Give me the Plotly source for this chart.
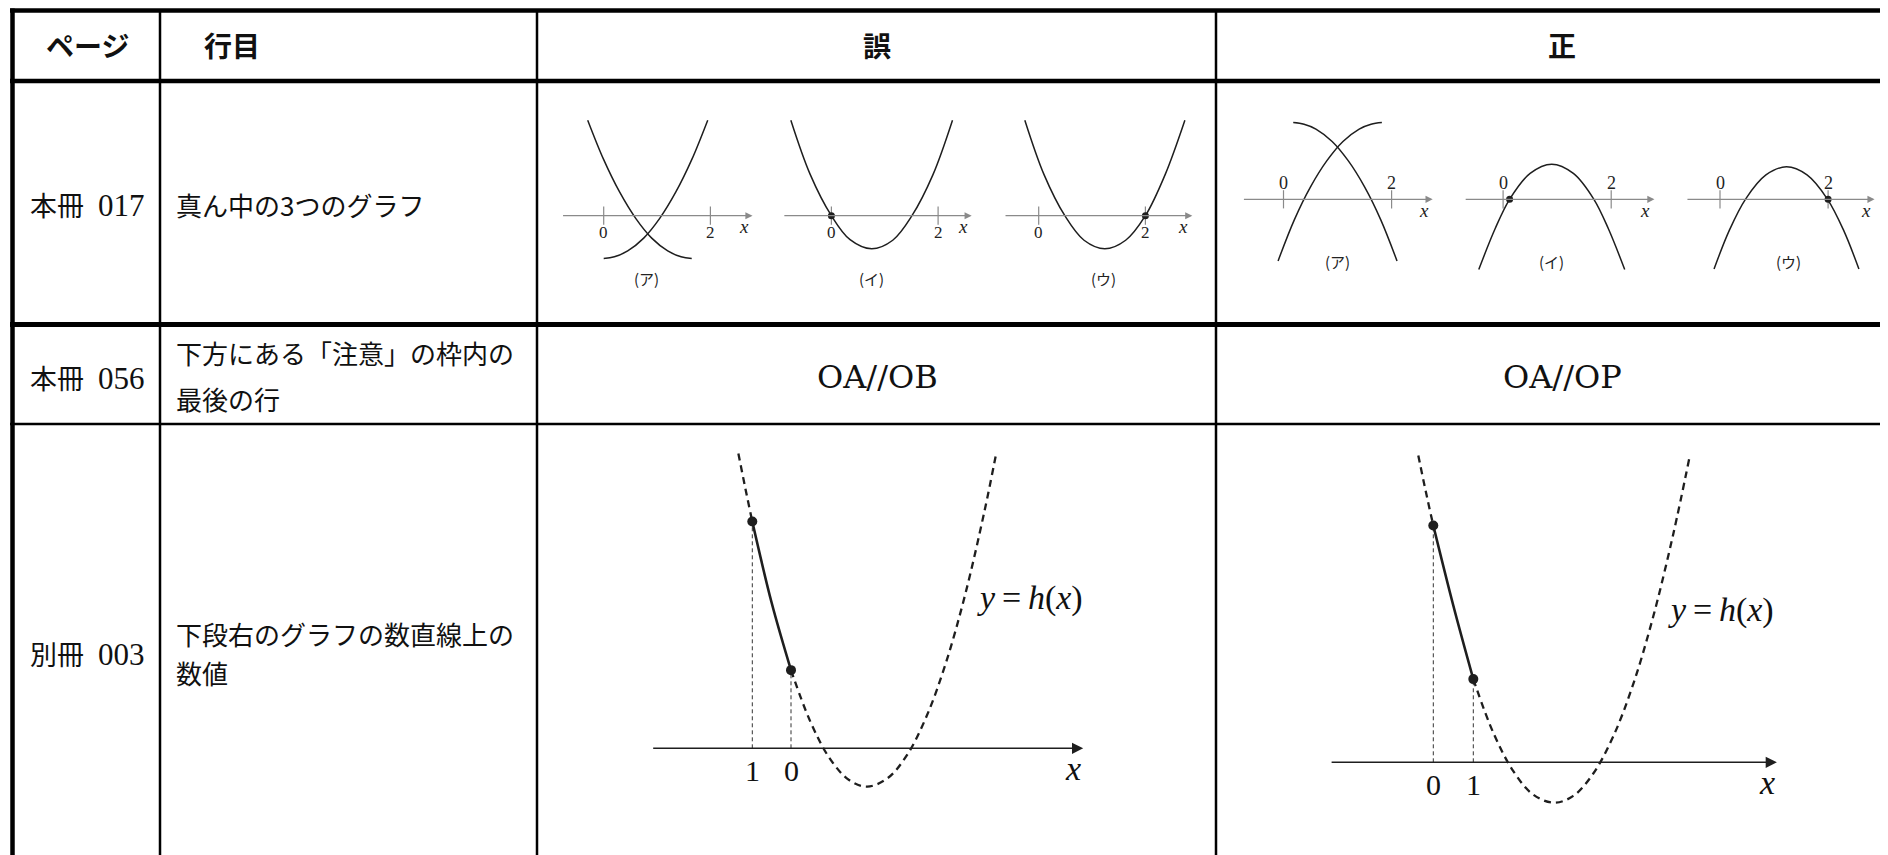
import plotly.graph_objects as go

W, H = 1888, 855          # reference canvas (pixel coordinates below use it)
OFF = 8                   # page body margin around the figure
FW, FH = W - OFF, H - OFF  # figure size

# ---- table text ----
HEADERS = ["ページ", "行目", "誤", "正"]
PAGES = ["本冊 017", "本冊 056", "別冊 003"]
ITEM_LINES = [
    ["真ん中の3つのグラフ"],
    ["下方にある「注意」の枠内の", "最後の行"],
    ["下段右のグラフの数直線上の", "数値"],
]
ROW2_WRONG = "OA//OB"
ROW2_RIGHT = "OA//OP"

# ---- row 1 small graphs (units: tick "0" -> 0, tick "2" -> 2) ----
PANEL_NAMES = ["(ア)", "(イ)", "(ウ)"]
R1_TICKS = [0, 2]
R1_TICK_TEXT = ["0", "2"]

# 誤 (ア): two upward parabolas crossing
WA1_X = [-0.30, 0.0, 0.3, 0.6, 0.9, 1.2, 1.45, 1.65]
WA1_Y = [1.79, 1.05, 0.44, -0.05, -0.42, -0.66, -0.77, -0.80]
WA2_X = [0.0, 0.2, 0.45, 0.75, 1.05, 1.35, 1.65, 1.95]
WA2_Y = [-0.80, -0.77, -0.66, -0.42, -0.05, 0.44, 1.05, 1.79]
# 誤 (イ)
WI_X = [-0.76, -0.4, 0.0, 0.35, 0.755, 1.15, 1.51, 1.9, 2.27]
WI_Y = [1.79, 0.78, 0.0, -0.45, -0.62, -0.46, 0.0, 0.76, 1.79]
WI_DOT_X, WI_DOT_Y = [0], [0]
# 誤 (ウ)
WU_X = [-0.26, 0.1, 0.49, 0.85, 1.24, 1.63, 2.0, 2.37, 2.74]
WU_Y = [1.79, 0.77, 0.0, -0.46, -0.62, -0.46, 0.0, 0.77, 1.79]
WU_DOT_X, WU_DOT_Y = [2], [0]

# 正 (ア): two downward parabolas crossing
CA1_X = [-0.10, 0.2, 0.5, 0.8, 1.1, 1.4, 1.62, 1.82]
CA1_Y = [-1.14, -0.38, 0.23, 0.71, 1.07, 1.30, 1.39, 1.42]
CA2_X = [0.18, 0.38, 0.6, 0.9, 1.2, 1.5, 1.8, 2.10]
CA2_Y = [1.42, 1.39, 1.30, 1.07, 0.71, 0.23, -0.38, -1.14]
# 正 (イ)
CI_X = [-0.45, -0.15, 0.12, 0.5, 0.9, 1.3, 1.68, 1.95, 2.25]
CI_Y = [-1.30, -0.55, 0.0, 0.48, 0.65, 0.48, 0.0, -0.55, -1.30]
CI_DOT_X, CI_DOT_Y = [0.12], [0]
# 正 (ウ)
CU_X = [-0.11, 0.17, 0.47, 0.85, 1.23, 1.61, 1.99, 2.29, 2.57]
CU_Y = [-1.29, -0.58, 0.0, 0.45, 0.60, 0.45, 0.0, -0.58, -1.29]
CU_DOT_X, CU_DOT_Y = [2], [0]

# ---- row 3 graphs y = h(x) ----
W3_TICKS = [-1, 0]
W3_TICK_TEXT = ["1", "0"]
W3_LEFT_X = [-1.36, -1.18, -1.0]
W3_LEFT_Y = [7.62, 6.72, 5.86]
W3_SEG_X = [-1.0, -0.5, 0.0]
W3_SEG_Y = [5.86, 3.76, 2.02]
W3_RIGHT_X = [0.0, 0.5, 1.0, 1.5, 1.97, 2.5, 3.0, 3.5, 4.0, 4.5, 5.0, 5.31]
W3_RIGHT_Y = [2.02, 0.69, -0.26, -0.82, -0.99, -0.77, -0.17, 0.82, 2.20, 3.97, 6.13, 7.66]
W3_PTS_X = [-1.0, 0.0]
W3_PTS_Y = [5.86, 2.02]

C3_TICKS = [0, 1]
C3_TICK_TEXT = ["0", "1"]
C3_LEFT_X = [-0.375, -0.19, 0.0]
C3_LEFT_Y = [7.67, 6.78, 5.92]
C3_SEG_X = [0.0, 0.5, 1.0]
C3_SEG_Y = [5.92, 3.92, 2.08]
C3_RIGHT_X = [1.0, 1.5, 2.0, 2.5, 3.02, 3.5, 4.0, 4.5, 5.0, 5.5, 6.0, 6.4]
C3_RIGHT_Y = [2.08, 0.74, -0.22, -0.81, -1.01, -0.84, -0.28, 0.65, 1.96, 3.65, 5.71, 7.60]
C3_PTS_X = [0.0, 1.0]
C3_PTS_Y = [5.92, 2.08]

H_LABEL = "<i>y</i>\u2009=\u2009<i>h</i>(<i>x</i>)"

INK = "#1e1e1e"
GREY = "#8a8a8a"
BODY_FONT = "Noto Sans CJK JP, sans-serif"
HEAD_FONT = "Noto Sans CJK JP, sans-serif"
MATH_FONT = "Liberation Serif, serif"
WIDE_SERIF = "DejaVu Serif, serif"

fig = go.Figure()
shapes = []
annotations = []


def px(x):
    return (x - OFF) / FW


def py(y):
    return 1 - (y - OFF) / FH


def hline(y, x0, x1, w):
    shapes.append(dict(type="line", xref="paper", yref="paper", x0=px(x0), x1=px(x1),
                       y0=py(y), y1=py(y), line=dict(color="black", width=w)))


def vline(x, y0, y1, w):
    shapes.append(dict(type="line", xref="paper", yref="paper", x0=px(x), x1=px(x),
                       y0=py(y0), y1=py(y1), line=dict(color="black", width=w)))


def label(x, y, s, size, family=BODY_FONT, anchor="center"):
    annotations.append(dict(x=px(x), y=py(y), xref="paper", yref="paper", text=s,
                            showarrow=False, xanchor=anchor, yanchor="middle",
                            font=dict(size=size, family=family, color="#111")))


def add_panel(n, box, origin, scale):
    left, top, right, bottom = box
    ox, oy = origin
    fig.update_layout(**{
        f"xaxis{n}": dict(domain=[px(left), px(right)],
                          range=[(left - ox) / scale, (right - ox) / scale],
                          visible=False, anchor=f"y{n}", fixedrange=True),
        f"yaxis{n}": dict(domain=[py(bottom), py(top)],
                          range=[(oy - bottom) / scale, (oy - top) / scale],
                          visible=False, anchor=f"x{n}", fixedrange=True),
    })


def add_line(n, xs, ys, width, dash="solid", color=INK, shape="spline"):
    fig.add_trace(go.Scatter(x=xs, y=ys, xaxis=f"x{n}", yaxis=f"y{n}", mode="lines",
                             line=dict(color=color, width=width, shape=shape, dash=dash),
                             hoverinfo="skip", showlegend=False))


def add_dots(n, xs, ys, size):
    fig.add_trace(go.Scatter(x=xs, y=ys, xaxis=f"x{n}", yaxis=f"y{n}", mode="markers",
                             marker=dict(color=INK, size=size), hoverinfo="skip",
                             showlegend=False, cliponaxis=False))


def panel_text(n, x, y, s, size, family=MATH_FONT, xshift=0, yshift=0, color="#222"):
    annotations.append(dict(x=x, y=y, xref=f"x{n}", yref=f"y{n}", text=s, showarrow=False,
                            xshift=xshift, yshift=yshift,
                            font=dict(size=size, family=family, color=color)))


def axis_arrow(n, x0, x1, color, width, head):
    annotations.append(dict(x=x1, y=0, ax=x0, ay=0, xref=f"x{n}", yref=f"y{n}",
                            axref=f"x{n}", ayref=f"y{n}", text="", showarrow=True,
                            arrowhead=2, arrowsize=head, arrowwidth=width,
                            arrowcolor=color, standoff=0, startstandoff=0))


# ---- table grid ----
hline(10.5, 10, W, 4.5)
hline(81, 10, W, 4.5)
hline(324.5, 10, W, 5)
hline(424, 10, W, 2.5)
vline(12.5, 8.5, H, 4.5)
for cx in [160, 537, 1216]:
    vline(cx, 10.5, H, 2.5)

# ---- table text ----
for s, x in zip(HEADERS, [87, 232, 877, 1562]):
    label(x, 45, "<b>" + s + "</b>", 28, HEAD_FONT)

row_mid = [204, 377, 653]
line_y = [[204], [352, 398], [633, 672]]
for page, lines, ym, ys in zip(PAGES, ITEM_LINES, row_mid, line_y):
    book, num = page.split(" ")
    label(28, ym, book, 27, anchor="left")
    label(96, ym + 1, num, 31, MATH_FONT, anchor="left")
    for s, yy in zip(lines, ys):
        label(174, yy, s, 26, anchor="left")
label(877, 377, ROW2_WRONG, 32, WIDE_SERIF)
label(1562, 377, ROW2_RIGHT, 32, WIDE_SERIF)

# ---- row 1 panels ----
R1W_CURVES = [[(WA1_X, WA1_Y), (WA2_X, WA2_Y)], [(WI_X, WI_Y)], [(WU_X, WU_Y)]]
R1W_DOTS = [([], []), (WI_DOT_X, WI_DOT_Y), (WU_DOT_X, WU_DOT_Y)]
R1C_CURVES = [[(CA1_X, CA1_Y), (CA2_X, CA2_Y)], [(CI_X, CI_Y)], [(CU_X, CU_Y)]]
R1C_DOTS = [([], []), (CI_DOT_X, CI_DOT_Y), (CU_DOT_X, CU_DOT_Y)]

ROW1 = [
    dict(curves=R1W_CURVES, dots=R1W_DOTS,
         boxes=[(550, 95, 765, 300), (770, 95, 990, 300), (995, 95, 1205, 300)],
         origins=[(603.7, 215.7), (831.4, 215.7), (1038.7, 215.7)], scale=53.35,
         axes=[(-0.79, 2.79), (-0.91, 2.63), (-0.65, 2.88)],
         names=[(0.81, -1.17), (0.755, -1.17), (1.22, -1.17)], tick_shift=-17, tick_size=17),
    dict(curves=R1C_CURVES, dots=R1C_DOTS,
         boxes=[(1225, 95, 1445, 300), (1450, 95, 1665, 300), (1670, 95, 1885, 300)],
         origins=[(1283.5, 199.3), (1503.1, 199.3), (1720.0, 199.3)], scale=54.05,
         axes=[(-0.76, 2.76), (-0.72, 2.80), (-0.63, 2.86)],
         names=[(1.0, -1.16), (0.9, -1.16), (1.26, -1.16)], tick_shift=16, tick_size=18),
]

n = 2
for spec in ROW1:
    for i in range(3):
        add_panel(n, spec["boxes"][i], spec["origins"][i], spec["scale"])
        a0, a1 = spec["axes"][i]
        axis_arrow(n, a0, a1, GREY, 1.3, 1.1)
        fig.add_trace(go.Scatter(x=R1_TICKS, y=[0] * len(R1_TICKS), xaxis=f"x{n}", yaxis=f"y{n}",
                                 mode="markers", hoverinfo="skip", showlegend=False,
                                 marker=dict(symbol="line-ns", size=13,
                                             line=dict(width=1.2, color=GREY))))
        for xs, ys in spec["curves"][i]:
            add_line(n, xs, ys, 1.5)
        dx, dy = spec["dots"][i]
        if dx:
            add_dots(n, dx, dy, 7)
        for t, s in zip(R1_TICKS, R1_TICK_TEXT):
            panel_text(n, t, 0, s, spec["tick_size"], yshift=spec["tick_shift"])
        panel_text(n, a1, 0, "<i>x</i>", 19, xshift=-9, yshift=-11)
        nx, ny = spec["names"][i]
        panel_text(n, nx, ny, PANEL_NAMES[i], 15, HEAD_FONT)
        n += 1

# ---- row 3 panels ----
ROW3 = [
    dict(left=(W3_LEFT_X, W3_LEFT_Y), seg=(W3_SEG_X, W3_SEG_Y), right=(W3_RIGHT_X, W3_RIGHT_Y),
         pts=(W3_PTS_X, W3_PTS_Y), ticks=W3_TICKS, tick_text=W3_TICK_TEXT,
         box=(640, 435, 1100, 850), origin=(791.0, 748.3), scale=38.7,
         axis=(-3.6, 7.55), hpos=(6.18, 3.88)),
    dict(left=(C3_LEFT_X, C3_LEFT_Y), seg=(C3_SEG_X, C3_SEG_Y), right=(C3_RIGHT_X, C3_RIGHT_Y),
         pts=(C3_PTS_X, C3_PTS_Y), ticks=C3_TICKS, tick_text=C3_TICK_TEXT,
         box=(1300, 435, 1800, 850), origin=(1433.3, 762.3), scale=40.0,
         axis=(-2.58, 8.59), hpos=(7.19, 3.81)),
]

for spec in ROW3:
    add_panel(n, spec["box"], spec["origin"], spec["scale"])
    a0, a1 = spec["axis"]
    axis_arrow(n, a0, a1, INK, 1.4, 1.6)
    ptx, pty = spec["pts"]
    for x, y in zip(ptx, pty):
        add_line(n, [x, x], [0, y], 1, dash="4px,3px", color="#333", shape="linear")
    add_line(n, *spec["left"], 2.3, dash="7px,5px")
    add_line(n, *spec["right"], 2.3, dash="7px,5px")
    add_line(n, *spec["seg"], 2.6)
    add_dots(n, ptx, pty, 10)
    for t, s in zip(spec["ticks"], spec["tick_text"]):
        panel_text(n, t, 0, s, 30, yshift=-22, color="#111")
    panel_text(n, a1, 0, "<i>x</i>", 34, xshift=-10, yshift=-20, color="#111")
    hx, hy = spec["hpos"]
    panel_text(n, hx, hy, H_LABEL, 34, color="#111")
    n += 1

fig.update_layout(
    width=FW, height=FH,
    margin=dict(l=0, r=0, t=0, b=0),
    paper_bgcolor="white", plot_bgcolor="white",
    showlegend=False,
    shapes=shapes,
    annotations=annotations,
)

fig.write_html("out.html")
